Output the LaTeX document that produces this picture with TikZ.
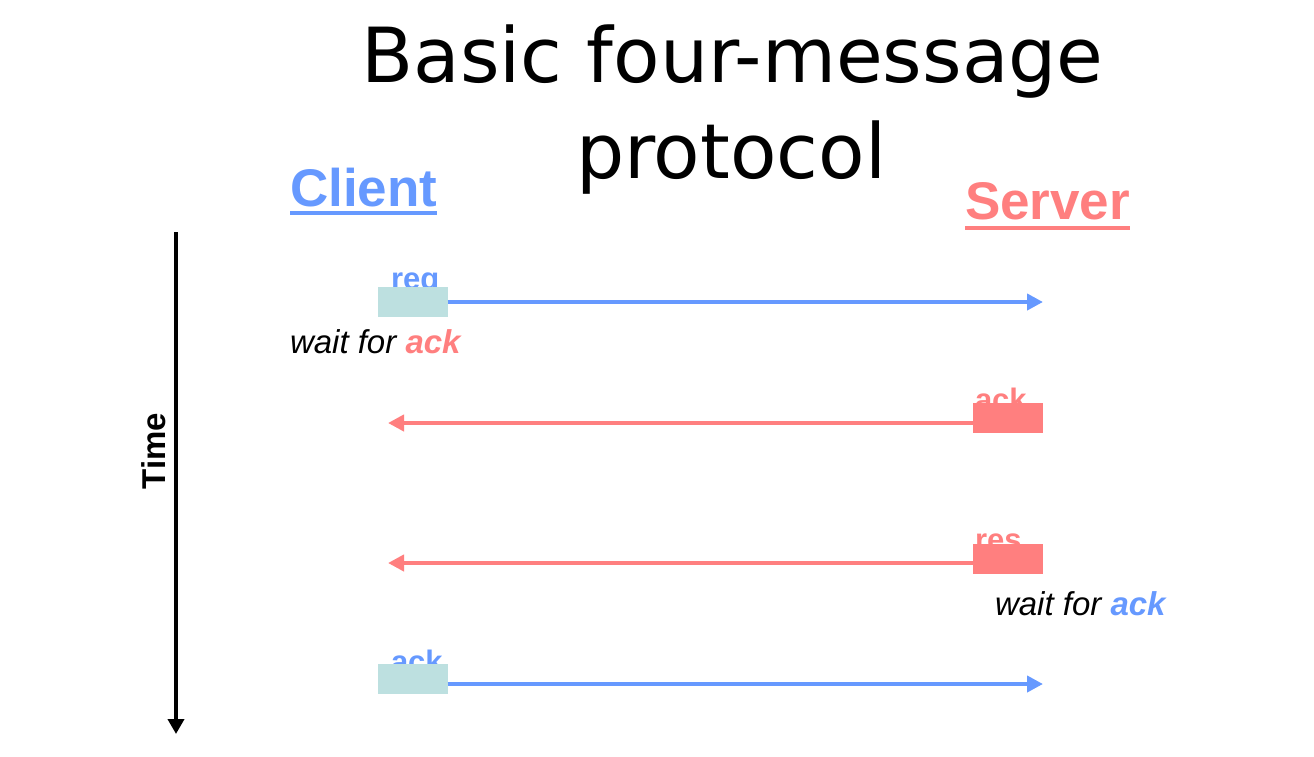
\documentclass[tikz,border=0pt]{standalone}
\usepackage{fontspec}
\setmainfont{Liberation Sans}
\newfontfamily\titlefont{DejaVu Sans}
\usetikzlibrary{arrows.meta}
\definecolor{cblue}{RGB}{102,153,255}
\definecolor{cred}{RGB}{255,127,127}
\definecolor{cteal}{RGB}{189,224,224}
\tikzset{
  txt/.style={inner sep=0pt, outer sep=0pt},
  msgbox/.style={inner sep=0pt, outer sep=0pt, minimum width=70pt, minimum height=30pt, draw=none},
  lbl/.style={txt, anchor=base west, font=\fontsize{31}{36}\selectfont\bfseries},
  waitlbl/.style={txt, anchor=base west, font=\fontsize{33}{38}\selectfont\itshape},
  head/.style={txt, anchor=base west, font=\fontsize{53}{60}\selectfont\bfseries},
  bmsg/.style={cblue, line width=4pt, -{Triangle[length=16pt,width=16pt]}},
  rmsg/.style={cred, line width=4pt, -{Triangle[length=16pt,width=16pt]}},
}
\begin{document}
\begin{tikzpicture}[x=1pt,y=-1pt]
\useasboundingbox (0,0) rectangle (1314,756);
\fill[white] (0,0) rectangle (1314,756);
% title
\node[txt, anchor=base, font=\titlefont\fontsize{76}{90}\selectfont] (t1) at (732.5,82) {Basic four-message};
\node[txt, anchor=base, font=\titlefont\fontsize{76}{90}\selectfont] (t2) at (731,178) {protocol};
% headers
\node[head, text=cblue] (client) at (290,206) {Client};
\draw[cblue, line width=4pt] ([yshift=-7pt]client.base west) -- ([yshift=-7pt]client.base east);
\node[head, text=cred] (server) at (965,219) {Server};
\draw[cred, line width=4pt] ([yshift=-9pt]server.base west) -- ([yshift=-9pt]server.base east);
% time axis
\coordinate (ttop) at (176,232);
\coordinate (tbot) at (176,734);
\draw[line width=4.5pt, -{Triangle[length=15pt,width=16pt]}] (ttop) -- (tbot);
\node[txt, anchor=base, rotate=90, font=\fontsize{33}{38}\selectfont\bfseries] (time) at (165,451) {Time};
% message 1: req
\node[lbl, text=cblue] (reqlbl) at (391,289) {req};
\node[msgbox, fill=cteal] (reqbox) at (412.5,302) {};
\coordinate (reqend) at (1043,302);
\draw[bmsg] (reqbox.east) -- (reqend);
\node[waitlbl] (wait1) at (290,353) {wait for \textcolor{cred}{\bfseries ack}};
% message 2: ack
\node[lbl, text=cred] (acklbl) at (975,410) {ack};
\node[msgbox, fill=cred] (ackbox) at (1008,418) {};
\coordinate (ackend) at (388,423);
\draw[rmsg] ([yshift=-5pt]ackbox.west) -- (ackend);
% message 3: res
\node[lbl, text=cred] (reslbl) at (975,550) {res};
\node[msgbox, fill=cred] (resbox) at (1008,558.5) {};
\coordinate (resend) at (388,563);
\draw[rmsg] ([yshift=-4.5pt]resbox.west) -- (resend);
\node[waitlbl] (wait2) at (995,615) {wait for \textcolor{cblue}{\bfseries ack}};
% message 4: ack
\node[lbl, text=cblue] (ack2lbl) at (391,672) {ack};
\node[msgbox, fill=cteal] (ack2box) at (412.5,679) {};
\coordinate (ack2end) at (1043,684);
\draw[bmsg] ([yshift=-5pt]ack2box.east) -- (ack2end);
\end{tikzpicture}
\end{document}
